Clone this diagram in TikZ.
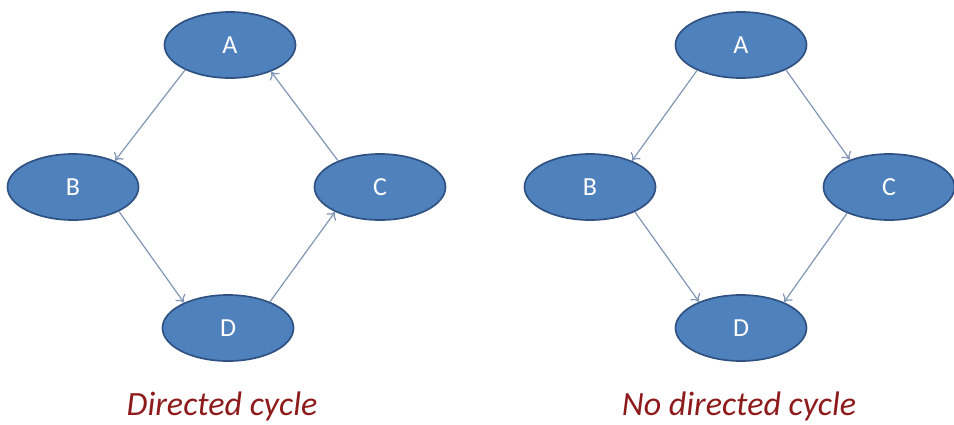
\documentclass[tikz,border=0pt]{standalone}
\usepackage{fontspec}
\setmainfont{Carlito}
\usetikzlibrary{shapes.geometric,arrows.meta}
\definecolor{nodefill}{HTML}{4F81BD}
\definecolor{nodeline}{HTML}{2F5283}
\definecolor{edgecol}{HTML}{8196B4}
\definecolor{captioncol}{HTML}{8E1B1B}
\tikzset{
  vert/.style={ellipse, draw=nodeline, line width=1.7pt, fill=nodefill,
    minimum width=131pt, minimum height=66pt, inner sep=0pt,
    text=white, font=\fontsize{26}{28}\selectfont},
  edge/.style={draw=edgecol, line width=1.2pt, -{To[length=7pt,width=12pt]}},
  caption/.style={text=captioncol, font=\itshape\fontsize{34}{38}\selectfont}
}
\begin{document}
\begin{tikzpicture}[x=1pt,y=-1pt]
  \useasboundingbox (0,0) rectangle (954,424);
  % left graph: directed cycle
  \node[vert] (A1) at (230,45) {A};
  \node[vert] (B1) at (73,187) {B};
  \node[vert] (C1) at (380,187) {C};
  \node[vert] (D1) at (228,328) {D};
  \draw[edge] (A1.209) -- (B1.32);
  \draw[edge] (B1.332) -- (D1.150);
  \draw[edge] (D1.32) -- (C1.209);
  \draw[edge] (C1.148) -- (A1.327);
  \node[caption] (cap1) at (222,406) {Directed cycle};
  % right graph: no directed cycle
  \node[vert] (A2) at (741,45) {A};
  \node[vert] (B2) at (590,187) {B};
  \node[vert] (C2) at (889,187) {C};
  \node[vert] (D2) at (741,328) {D};
  \draw[edge] (A2.210) -- (B2.32);
  \draw[edge] (A2.331) -- (C2.145);
  \draw[edge] (B2.331) -- (D2.148);
  \draw[edge] (C2.212) -- (D2.31);
  \node[caption] (cap2) at (739,406) {No directed cycle};
\end{tikzpicture}
\end{document}
